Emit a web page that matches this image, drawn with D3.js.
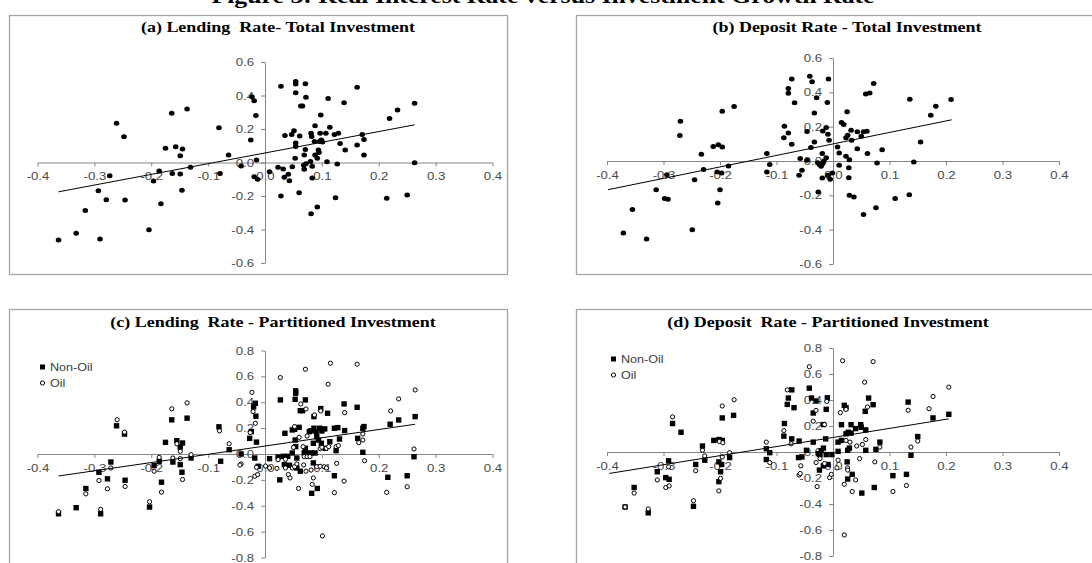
<!DOCTYPE html>
<html><head><meta charset="utf-8">
<script src="https://cdn.jsdelivr.net/npm/d3@7"></script>
<style>body{margin:0;background:#fff;overflow:hidden}svg{display:block}</style>
</head><body>
<svg id="chart" width="1092" height="563"></svg>
<script>
// ---------------- DATA ----------------
const figureTitle = "Figure 3: Real Interest Rate versus Investment Growth Rate";
const panelTitles = [
  "(a) Lending  Rate- Total Investment",
  "(b) Deposit Rate - Total Investment",
  "(c) Lending  Rate - Partitioned Investment",
  "(d) Deposit  Rate - Partitioned Investment"
];
const xTickValues = [-0.4, -0.3, -0.2, -0.1, 0.0, 0.1, 0.2, 0.3, 0.4];
const yTicksTotal = [-0.6, -0.4, -0.2, 0.0, 0.2, 0.4, 0.6];
const yTicksPart = [-0.8, -0.6, -0.4, -0.2, 0.0, 0.2, 0.4, 0.6, 0.8];
const seriesNames = ["Non-Oil", "Oil"];

// (a) lending rate vs total investment growth
const lendingTotal = [
[-0.363,-0.463],[-0.332,-0.423],[-0.316,-0.286],[-0.293,-0.168],[-0.29,-0.457],[-0.279,-0.222],[-0.273,-0.079],
[-0.261,0.234],[-0.248,0.154],[-0.246,-0.224],[-0.204,-0.401],[-0.196,-0.11],[-0.186,-0.051],[-0.183,-0.246],
[-0.175,0.085],[-0.164,0.294],[-0.163,-0.065],[-0.157,0.094],[-0.149,0.041],[-0.149,-0.069],[-0.146,-0.166],
[-0.145,0.081],[-0.137,0.32],[-0.131,-0.029],[-0.081,0.208],[-0.079,-0.065],[-0.064,0.045],[-0.042,-0.021],
[-0.025,0.134],[-0.023,0.393],[-0.019,0.369],[-0.016,0.28],[-0.015,0.015],[-0.019,-0.085],[-0.013,-0.1],
[0.008,-0.055],[0.023,-0.029],[0.028,0.455],[0.028,-0.2],[0.032,-0.039],[0.034,-0.088],[0.035,0.161],
[0.041,-0.07],[0.043,-0.109],[0.047,0.167],[0.048,-0.025],[0.051,0.19],[0.054,0.484],[0.054,0.469],
[0.054,0.416],[0.054,0.116],[0.054,0.096],[0.053,0.025],[0.061,0.158],[0.06,-0.18],[0.063,0.337],
[0.066,0.337],[0.068,-0.016],[0.069,-0.04],[0.071,0.47],[0.071,0.078],[0.069,0.045],[0.072,0.39],
[0.072,-0.007],[0.08,0.006],[0.081,0.175],[0.082,0.155],[0.081,-0.306],[0.083,-0.023],[0.083,-0.092],
[0.088,0.22],[0.087,0.125],[0.088,0.045],[0.092,0.025],[0.092,-0.265],[0.094,0.075],[0.095,0.06],
[0.096,0.125],[0.097,0.175],[0.098,0.284],[0.099,0.135],[0.101,0.122],[0.107,0.175],[0.109,0.004],
[0.111,0.382],[0.114,0.21],[0.122,0.167],[0.124,-0.21],[0.127,-0.009],[0.129,0.175],[0.132,0.114],
[0.139,0.357],[0.141,0.075],[0.162,0.449],[0.162,0.105],[0.171,0.167],[0.174,0.137],[0.174,0.045],
[0.214,-0.214],[0.219,0.263],[0.233,0.314],[0.25,-0.194],[0.263,0.353],[0.263,-0.001]
];

// (b) deposit rate vs total investment growth
const depositTotal = [
[-0.371,-0.419],[-0.355,-0.283],[-0.33,-0.454],[-0.313,-0.167],[-0.298,-0.219],[-0.292,-0.223],[-0.294,-0.08],
[-0.27,0.232],[-0.271,0.148],[-0.249,-0.4],[-0.245,-0.109],[-0.233,0.039],[-0.229,-0.05],[-0.212,0.085],
[-0.203,0.095],[-0.196,0.082],[-0.205,-0.064],[-0.197,-0.07],[-0.185,-0.029],[-0.2,-0.167],[-0.204,-0.245],
[-0.196,0.29],[-0.175,0.317],[-0.117,0.043],[-0.112,-0.021],[-0.117,-0.064],[-0.087,0.135],[-0.086,0.203],
[-0.079,0.163],[-0.079,0.423],[-0.079,0.394],[-0.073,0.478],[-0.073,0.097],[-0.068,0.339],[-0.058,0.014],
[-0.055,-0.054],[-0.06,-0.083],[-0.046,0.172],[-0.046,0.004],[-0.041,0.494],[-0.037,0.461],[-0.039,0.078],
[-0.033,0.111],[-0.033,0.279],[-0.029,0.369],[-0.027,-0.01],[-0.024,-0.02],[-0.021,-0.03],[-0.018,-0.015],
[-0.016,0.0],[-0.012,0.019],[-0.026,-0.181],[-0.019,-0.099],[-0.009,-0.083],[-0.005,-0.107],[-0.001,-0.07],
[-0.018,0.175],[-0.012,0.195],[-0.009,0.156],[-0.007,0.121],[-0.019,0.043],[-0.008,0.478],[-0.01,0.341],
[0.008,0.082],[0.011,0.047],[0.011,-0.025],[0.015,0.224],[0.019,0.212],[0.023,0.027],[0.029,0.008],
[0.028,-0.039],[0.028,-0.097],[0.029,-0.2],[0.037,-0.21],[0.023,0.136],[0.026,0.15],[0.025,0.287],
[0.033,0.121],[0.032,0.179],[0.043,0.17],[0.043,0.072],[0.05,0.144],[0.054,0.17],[0.06,0.173],
[0.054,-0.311],[0.058,0.39],[0.065,0.396],[0.072,0.452],[0.061,0.043],[0.078,-0.012],[0.076,-0.272],
[0.087,0.066],[0.11,-0.219],[0.135,-0.196],[0.136,0.36],[0.143,-0.006],[0.155,0.111],[0.173,0.266],
[0.182,0.319],[0.209,0.358]
];

// (c) lending rate vs partitioned investment growth
const lendingNonOil = [
[-0.363,-0.462],[-0.332,-0.415],[-0.315,-0.267],[-0.292,-0.141],[-0.289,-0.462],[-0.277,-0.192],[-0.271,-0.062],
[-0.261,0.218],[-0.247,0.154],[-0.246,-0.203],[-0.203,-0.41],[-0.195,-0.09],[-0.186,-0.056],[-0.182,-0.218],
[-0.175,0.09],[-0.164,0.264],[-0.162,-0.062],[-0.155,0.103],[-0.149,-0.082],[-0.145,0.085],[-0.146,-0.141],
[-0.149,0.054],[-0.137,0.277],[-0.13,-0.031],[-0.081,0.21],[-0.078,-0.056],[-0.063,0.033],[-0.042,0.0],
[-0.024,0.173],[-0.027,0.121],[-0.02,0.364],[-0.017,0.392],[-0.016,0.292],[-0.015,0.092],[-0.018,-0.031],
[-0.012,-0.095],[0.008,-0.036],[0.023,-0.023],[0.032,-0.018],[0.04,-0.018],[0.027,0.418],[0.026,-0.2],
[0.034,-0.082],[0.043,-0.087],[0.035,0.16],[0.048,0.186],[0.052,0.191],[0.06,0.206],[0.054,0.488],
[0.054,0.47],[0.053,0.423],[0.048,0.008],[0.056,-0.031],[0.062,-0.133],[0.056,-0.108],[0.053,0.108],
[0.054,0.057],[0.071,0.418],[0.062,0.335],[0.066,0.335],[0.071,0.044],[0.069,0.008],[0.075,0.008],
[0.081,0.008],[0.088,0.008],[0.078,0.173],[0.081,0.18],[0.086,0.199],[0.09,0.173],[0.086,0.289],
[0.082,-0.304],[0.092,-0.266],[0.085,-0.069],[0.085,0.083],[0.091,0.134],[0.094,0.108],[0.096,0.199],
[0.1,0.178],[0.105,0.194],[0.098,0.351],[0.099,0.083],[0.106,0.044],[0.11,0.315],[0.114,0.095],
[0.122,0.199],[0.128,0.204],[0.131,0.116],[0.125,0.026],[0.122,-0.168],[0.139,0.387],[0.14,0.181],
[0.162,0.361],[0.163,0.121],[0.172,0.199],[0.174,0.212],[0.172,0.013],[0.216,-0.18],[0.22,0.23],
[0.235,0.263],[0.25,-0.168],[0.264,0.289],[0.262,-0.021]
];
const lendingOil = [
[-0.363,-0.446],[-0.315,-0.308],[-0.292,-0.205],[-0.289,-0.428],[-0.277,-0.269],[-0.271,-0.108],[-0.26,0.265],
[-0.247,0.169],[-0.246,-0.251],[-0.203,-0.369],[-0.195,-0.133],[-0.186,-0.026],[-0.182,-0.295],[-0.164,0.349],
[-0.155,0.079],[-0.162,-0.031],[-0.149,-0.036],[-0.149,0.021],[-0.145,-0.197],[-0.137,0.395],[-0.13,-0.005],
[-0.08,0.179],[-0.063,0.079],[-0.042,-0.077],[-0.023,0.477],[-0.021,0.328],[-0.017,0.237],[-0.026,0.165],
[-0.018,-0.172],[-0.013,-0.159],[-0.044,-0.085],[-0.015,-0.103],[0.001,-0.093],[0.008,-0.108],[0.021,-0.111],
[0.023,-0.044],[0.027,0.591],[0.036,-0.041],[0.036,-0.108],[0.041,-0.159],[0.044,-0.185],[0.048,-0.108],
[0.05,0.051],[0.052,0.212],[0.052,-0.098],[0.056,-0.077],[0.06,0.129],[0.059,-0.266],[0.063,0.387],
[0.067,0.057],[0.068,-0.085],[0.069,-0.02],[0.072,0.348],[0.071,0.655],[0.072,-0.133],[0.074,0.139],
[0.074,-0.021],[0.079,-0.02],[0.081,-0.124],[0.083,-0.235],[0.085,-0.185],[0.087,0.302],[0.091,-0.098],
[0.097,-0.095],[0.097,0.041],[0.098,0.333],[0.1,0.052],[0.101,-0.633],[0.104,-0.098],[0.108,0.044],
[0.108,-0.108],[0.111,0.539],[0.112,0.057],[0.115,0.702],[0.122,-0.299],[0.125,0.057],[0.126,-0.072],
[0.129,0.065],[0.139,-0.209],[0.14,0.32],[0.162,0.694],[0.165,0.088],[0.172,0.108],[0.172,0.155],
[0.175,-0.052],[0.214,-0.297],[0.221,0.333],[0.235,0.426],[0.25,-0.253],[0.262,0.039],[0.264,0.495]
];

// (d) deposit rate vs partitioned investment growth
const depositNonOil = [
[-0.368,-0.423],[-0.352,-0.273],[-0.327,-0.468],[-0.311,-0.152],[-0.296,-0.197],[-0.29,-0.21],[-0.291,-0.068],
[-0.284,0.219],[-0.269,0.152],[-0.247,-0.418],[-0.243,-0.096],[-0.231,0.046],[-0.227,-0.063],[-0.211,0.089],
[-0.202,0.096],[-0.196,0.089],[-0.202,-0.076],[-0.197,-0.096],[-0.199,-0.152],[-0.202,-0.228],[-0.196,0.262],
[-0.183,-0.043],[-0.176,0.282],[-0.118,0.025],[-0.112,-0.005],[-0.118,-0.058],[-0.087,0.122],[-0.086,0.219],
[-0.081,0.366],[-0.079,0.415],[-0.073,0.478],[-0.073,0.101],[-0.069,0.341],[-0.06,0.084],[-0.061,-0.043],
[-0.055,-0.038],[-0.047,0.013],[-0.042,0.491],[-0.038,0.415],[-0.035,0.3],[-0.035,0.076],[-0.03,0.392],
[-0.026,-0.013],[-0.023,-0.02],[-0.021,0.01],[-0.017,0.03],[-0.012,-0.02],[-0.024,-0.139],[-0.017,-0.106],
[-0.009,-0.096],[-0.002,-0.02],[-0.013,0.101],[-0.017,0.211],[-0.012,0.328],[-0.01,0.417],[0.009,0.076],
[0.015,0.089],[0.009,0.005],[0.015,0.21],[0.02,0.359],[0.023,0.341],[0.026,0.013],[0.029,0.03],
[0.025,-0.076],[0.026,-0.208],[0.034,-0.172],[0.023,0.14],[0.027,0.152],[0.032,0.145],[0.032,0.21],
[0.04,0.18],[0.049,0.21],[0.051,-0.316],[0.05,0.19],[0.058,0.17],[0.057,0.313],[0.058,0.013],
[0.063,0.415],[0.071,0.364],[0.073,-0.273],[0.076,0.02],[0.083,0.076],[0.106,-0.182],[0.13,-0.172],
[0.133,0.384],[0.138,-0.025],[0.15,0.119],[0.177,0.262],[0.205,0.29]
];
const depositOil = [
[-0.368,-0.423],[-0.352,-0.316],[-0.327,-0.438],[-0.311,-0.215],[-0.296,-0.273],[-0.29,-0.261],[-0.291,-0.114],
[-0.284,0.27],[-0.247,-0.375],[-0.243,-0.144],[-0.231,0.013],[-0.227,-0.03],[-0.202,-0.299],[-0.199,-0.203],
[-0.196,-0.038],[-0.201,0.081],[-0.195,0.071],[-0.196,0.354],[-0.183,-0.005],[-0.175,0.402],[-0.118,0.076],
[-0.112,-0.081],[-0.087,0.165],[-0.081,0.478],[-0.074,0.063],[-0.06,-0.177],[-0.058,-0.165],[-0.057,-0.106],
[-0.042,0.656],[-0.035,0.237],[-0.03,0.32],[-0.028,-0.266],[-0.03,-0.081],[-0.023,-0.051],[-0.015,-0.089],
[-0.015,0.211],[-0.011,0.389],[-0.006,-0.197],[-0.003,-0.172],[0.007,-0.122],[0.009,-0.063],[0.013,0.303],
[0.017,0.702],[0.02,-0.248],[0.02,-0.638],[0.023,0.328],[0.023,0.089],[0.03,0.076],[0.026,-0.122],
[0.026,-0.139],[0.034,-0.304],[0.04,-0.215],[0.042,0.046],[0.047,-0.051],[0.052,0.058],[0.056,0.537],
[0.058,0.096],[0.061,0.346],[0.071,0.695],[0.074,-0.076],[0.083,0.038],[0.106,-0.304],[0.13,-0.258],
[0.133,0.321],[0.138,0.038],[0.15,0.084],[0.17,0.333],[0.177,0.427],[0.205,0.499]
];

// linear trend lines (end points)
const trendA = [[-0.363,-0.175],[0.263,0.225]];
const trendB = [[-0.398,-0.167],[0.21,0.24]];
const trendC = [[-0.363,-0.17],[0.264,0.23]];
const trendD = [[-0.396,-0.165],[0.205,0.255]];

// ---------------- DRAWING ----------------
const svg = d3.select("#chart");
const AXIS = "#868686", LABEL = "#4a4a4a", BORDER = "#a6a6a6";
const SX = 1.2; // the original figure is horizontally stretched
const fmt = d => d.toFixed(1);

function stretchedText(parent, x, y, str, opts) {
  const t = parent.append("text")
    .attr("transform", `translate(${x},${y}) scale(${SX},1)`)
    .attr("text-anchor", opts.anchor || "middle")
    .attr("font-family", opts.family)
    .attr("font-size", opts.size)
    .attr("fill", opts.fill || "#000")
    .style("white-space", "pre")
    .text(str);
  if (opts.bold) t.attr("font-weight", "bold");
  return t;
}

stretchedText(svg, 543, 3, figureTitle, {family:"Liberation Serif, serif", size:21.5, bold:true});

const panels = [
  {title: panelTitles[0], box:[9,15,498,259], xr:[37.5,492.5], yd:[-0.6,0.6], yr:[263,62], yt:yTicksTotal, tx:278, ty:32,
   series:[{data:lendingTotal, shape:"dot"}], trend:trendA},
  {title: panelTitles[1], box:[576,15,540,259], xr:[607,1059], yd:[-0.6,0.6], yr:[264,58], yt:yTicksTotal, tx:847, ty:32,
   series:[{data:depositTotal, shape:"dot"}], trend:trendB},
  {title: panelTitles[2], box:[9,309,498,280], xr:[37.5,492.5], yd:[-0.8,0.8], yr:[557.5,350.5], yt:yTicksPart, tx:273, ty:327,
   series:[{data:lendingNonOil, shape:"square"},{data:lendingOil, shape:"ring"}], trend:trendC, legend:[40,367]},
  {title: panelTitles[3], box:[576,309,540,280], xr:[607,1059], yd:[-0.8,0.8], yr:[556,348], yt:yTicksPart, tx:828, ty:327,
   series:[{data:depositNonOil, shape:"square"},{data:depositOil, shape:"ring"}], trend:trendD, legend:[611,359]}
];

function drawMarker(g, shape, data, x, y) {
  if (shape === "dot") {
    g.selectAll(null).data(data).enter().append("ellipse")
      .attr("cx", d => x(d[0])).attr("cy", d => y(d[1])).attr("rx", 2.8).attr("ry", 2.5).attr("fill", "#000");
  } else if (shape === "square") {
    const s = 5.4;
    g.selectAll(null).data(data).enter().append("rect")
      .attr("x", d => x(d[0]) - s/2).attr("y", d => y(d[1]) - s/2)
      .attr("width", s).attr("height", s).attr("fill", "#000");
  } else {
    g.selectAll(null).data(data).enter().append("circle")
      .attr("cx", d => x(d[0])).attr("cy", d => y(d[1])).attr("r", 2.1)
      .attr("fill", "#fff").attr("stroke", "#000").attr("stroke-width", 1);
  }
}

panels.forEach(p => {
  const g = svg.append("g");
  g.append("rect").attr("x", p.box[0] + 0.5).attr("y", p.box[1] + 0.5)
    .attr("width", p.box[2]).attr("height", p.box[3])
    .attr("fill", "#fff").attr("stroke", BORDER).attr("stroke-width", 1.3);

  const x = d3.scaleLinear().domain([-0.4, 0.4]).range(p.xr);
  const y = d3.scaleLinear().domain(p.yd).range(p.yr);

  stretchedText(g, p.tx, p.ty, p.title, {family:"Liberation Serif, serif", size:15, bold:true});

  const xAxis = g.append("g").attr("transform", `translate(0,${y(0)})`)
    .call(d3.axisBottom(x).tickValues(xTickValues).tickFormat(fmt).tickSize(4).tickPadding(6).tickSizeOuter(0));
  const yAxis = g.append("g").attr("transform", `translate(${x(0)},0)`)
    .call(d3.axisLeft(y).tickValues(p.yt).tickFormat(fmt).tickSize(4).tickPadding(7).tickSizeOuter(0));
  [xAxis, yAxis].forEach(a => {
    a.select(".domain").attr("stroke", AXIS);
    a.selectAll(".tick line").attr("stroke", AXIS);
    a.selectAll(".tick text").attr("fill", LABEL)
      .attr("font-family", "Liberation Sans, Arial, sans-serif").attr("font-size", 11)
      .attr("transform", `scale(${SX},1)`);
  });
  // keep y labels right-aligned at the same distance from the axis after stretching
  yAxis.selectAll(".tick text").attr("x", -11 / SX);

  p.series.forEach(s => drawMarker(g, s.shape, s.data, x, y));

  g.append("path").datum(p.trend)
    .attr("d", d3.line().x(d => x(d[0])).y(d => y(d[1])))
    .attr("fill", "none").attr("stroke", "#000").attr("stroke-width", 1);

  if (p.legend) {
    const [lx, ly] = p.legend;
    const lg = g.append("g");
    const shapes = ["square", "ring"];
    seriesNames.forEach((name, i) => {
      const cy = ly + i * 16;
      if (shapes[i] === "square") {
        lg.append("rect").attr("x", lx).attr("y", cy - 2.5).attr("width", 5).attr("height", 5).attr("fill", "#000");
      } else {
        lg.append("circle").attr("cx", lx + 2.5).attr("cy", cy).attr("r", 2.1)
          .attr("fill", "#fff").attr("stroke", "#000");
      }
      stretchedText(lg, lx + 10, cy + 4, name, {family:"Liberation Sans, Arial, sans-serif", size:10.5, anchor:"start", fill:"#404040"});
    });
  }
});
</script>
</body></html>
